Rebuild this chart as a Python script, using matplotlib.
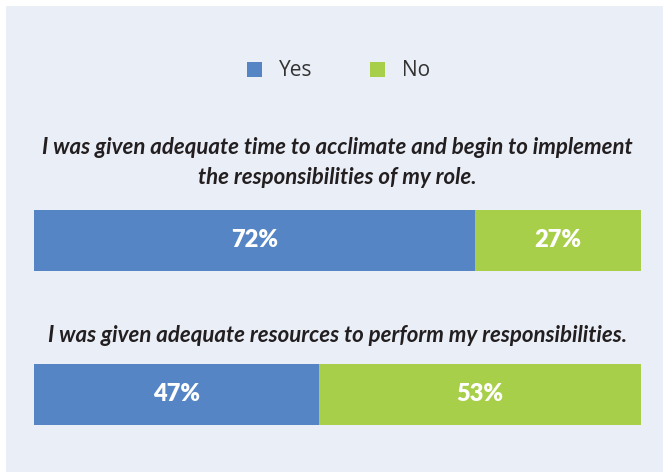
# stacked yes/no bars for two survey questions
import matplotlib.pyplot as plt
from matplotlib.patches import Patch
import numpy as np

# data
questions = ['I was given adequate time to acclimate and begin to implement\nthe responsibilities of my role.',
             'I was given adequate resources to perform my responsibilities.']
yes = [72, 47]
no = [27, 53]
series = ['Yes', 'No']

# colours
c_yes = '#5585C5'
c_no = '#A8CF4A'
bg = '#EAEEF7'

W, H = 663, 472
fig = plt.figure(figsize=(W/100, H/100), dpi=100)
fig.patch.set_facecolor('white')

# panel behind everything (white border top/left)
fig.add_artist(plt.Rectangle((6/W, 0), 1, 1-6/H, transform=fig.transFigure,
                             facecolor=bg, edgecolor='none', zorder=-5))

# bar axes
ax = fig.add_axes([34/W, 1-425/H, (641-34)/W, (425-210)/H])
ax.set_facecolor('none')
for s in ax.spines.values():
    s.set_visible(False)
ax.set_xticks([])
ax.set_yticks([])

y = np.arange(len(questions))
yes_a = np.array(yes, dtype=float)
no_a = np.array(no, dtype=float)
tot = yes_a + no_a
# bars fill the full width (shares of the answers given)
yes_s = yes_a / tot * 100
no_s = no_a / tot * 100

bh = 61/154.
ax.barh(y, yes_s, height=bh, color=c_yes, linewidth=0)
ax.barh(y, no_s, left=yes_s, height=bh, color=c_no, linewidth=0)
ax.set_xlim(0, 100)
ax.set_ylim(1 + 0.5*bh + 0.001, -0.5*bh)

for i in y:
    ax.text(yes_s[i]/2, i, '%d%%' % yes[i], ha='center', va='center', color='white',
            fontsize=17, fontweight='heavy', family='Lato')
    ax.text(yes_s[i] + no_s[i]/2, i, '%d%%' % no[i], ha='center', va='center', color='white',
            fontsize=17, fontweight='heavy', family='Lato')
    nl = questions[i].count('\n')
    off = (22 + 4*nl) * 0.72  # px -> points, baseline of last line
    ax.annotate(questions[i], xy=(50, i - 0.5*bh), xytext=(0, off),
                textcoords='offset points', ha='center', va='baseline',
                fontsize=16, fontweight='bold', fontstyle='italic', family='Lato',
                color='#231F20', linespacing=1.5, annotation_clip=False)

# legend
handles = [Patch(facecolor=c_yes, edgecolor='none'), Patch(facecolor=c_no, edgecolor='none')]
fig.legend(handles, series, loc='center', bbox_to_anchor=(338.5/W, 1-71/H), ncol=2,
           frameon=False, handlelength=0.72, handleheight=0.72, handletextpad=0.8,
           columnspacing=2.75, prop={'family': 'Open Sans', 'size': 15}, labelcolor='#333333')

fig.savefig('out.png', dpi=100)
